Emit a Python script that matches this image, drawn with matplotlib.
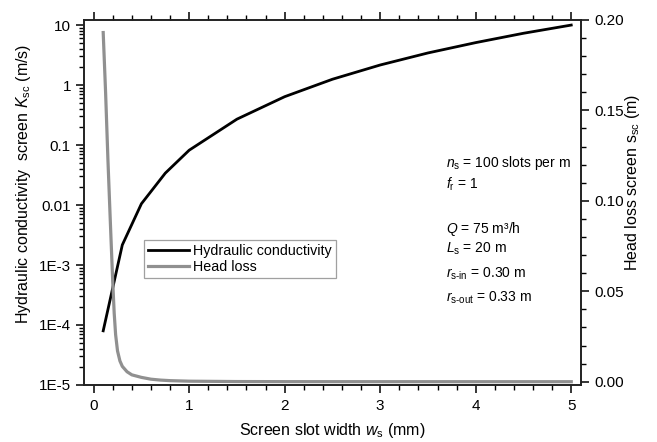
import matplotlib
matplotlib.use("Agg")
import matplotlib.pyplot as plt
from matplotlib.ticker import MultipleLocator, LogLocator, NullFormatter, FormatStrFormatter

plt.rcParams['font.family'] = ['Liberation Sans', 'DejaVu Sans']
plt.rcParams['mathtext.fontset'] = 'custom'
plt.rcParams['mathtext.rm'] = 'Liberation Sans'
plt.rcParams['mathtext.it'] = 'Liberation Sans:italic'

# Hydraulic conductivity K_sc (m/s) vs slot width w_s (mm)
w_k = [0.1, 0.3, 0.5, 0.75, 1.0, 1.5, 2.0, 2.5, 3.0, 3.5, 4.0, 4.5, 5.0]
k_sc = [8.0e-5, 2.16e-3, 0.0105, 0.034, 0.082, 0.27, 0.64, 1.25, 2.16, 3.43, 5.1, 7.3, 10.0]

# Head loss s_sc (m) vs slot width w_s (mm)
w_s = [0.1, 0.125, 0.15, 0.175, 0.2, 0.215, 0.23, 0.25, 0.275, 0.3, 0.35, 0.4,
       0.5, 0.6, 0.7, 0.8, 1.0, 1.5, 2.0, 3.0, 4.0, 5.0]
s_sc = [0.193, 0.16, 0.122, 0.088, 0.055, 0.038, 0.026, 0.017, 0.0115, 0.0085,
        0.0055, 0.0038, 0.0024, 0.0014, 0.0009, 0.0006, 0.0003, 0.0001,
        0.00005, 0.00003, 0.00002, 0.00002]

left_ticks = [1e-5, 1e-4, 1e-3, 1e-2, 1e-1, 1, 10]
left_labels = ['1E-5', '1E-4', '1E-3', '0.01', '0.1', '1', '10']

fig = plt.figure(figsize=(6.57, 4.42), dpi=100)
ax = fig.add_axes([0.128, 0.129, 0.756, 0.826])
ax2 = ax.twinx()

l1, = ax.plot(w_k, k_sc, color='black', lw=2.0, label='Hydraulic conductivity', zorder=3)
l2, = ax2.plot(w_s, s_sc, color='#909090', lw=2.3, label='Head loss', zorder=2)

ax.set_yscale('log')
ax.set_xlim(-0.1, 5.1)
ax.set_ylim(1e-5, 12.2)
ax.set_yticks(left_ticks)
ax.set_yticklabels(left_labels)
ax.yaxis.set_minor_locator(LogLocator(base=10, subs=range(2, 10), numticks=20))
ax.yaxis.set_minor_formatter(NullFormatter())
ax.xaxis.set_major_locator(MultipleLocator(1))
ax.xaxis.set_minor_locator(MultipleLocator(0.2))

ax2.set_ylim(-0.0018, 0.2)
ax2.yaxis.set_major_locator(MultipleLocator(0.05))
ax2.yaxis.set_minor_locator(MultipleLocator(0.01))
ax2.yaxis.set_major_formatter(FormatStrFormatter('%.2f'))

for a in (ax, ax2):
    for sp in a.spines.values():
        sp.set_linewidth(1.2)
        sp.set_color('#222222')

ax.tick_params(axis='x', which='both', top=True, direction='out', labelsize=11, pad=4)
ax.tick_params(axis='both', which='major', length=6, width=1.1)
ax.tick_params(axis='both', which='minor', length=3.5, width=1.0)
ax.tick_params(axis='y', which='both', direction='out', labelsize=11)
ax2.tick_params(axis='y', which='major', direction='out', length=6, width=1.1, labelsize=11)
ax2.tick_params(axis='y', which='minor', direction='out', length=3.5, width=1.0)

ax.set_xlabel(r'Screen slot width $w_\mathrm{s}$ (mm)', fontsize=11.5, labelpad=6)
ax.set_ylabel(r'Hydraulic conductivity  screen $K_\mathrm{sc}$ (m/s)', fontsize=11.5)
ax2.set_ylabel(r'Head loss screen s$_\mathrm{sc}$ (m)', fontsize=11.5)
ax.yaxis.set_label_coords(-0.103, 0.55)
ax2.yaxis.set_label_coords(1.085, 0.555)

leg = ax2.legend(handles=[l1, l2], loc='upper left', bbox_to_anchor=(0.121, 0.397),
                 fontsize=10.3, frameon=True, fancybox=False, handlelength=2.8,
                 handletextpad=0.3, borderpad=0.3, labelspacing=0.1, borderaxespad=0)
leg.get_frame().set_edgecolor('#888888')
leg.get_frame().set_linewidth(0.9)

ann = [
    (163, r'$n_\mathrm{s}$ = 100 slots per m'),
    (184, r'$f_\mathrm{r}$ = 1'),
    (229, r'$Q$ = 75 m³/h'),
    (249, r'$L_\mathrm{s}$ = 20 m'),
    (274, r'$r_\mathrm{s\text{-}in}$ = 0.30 m'),
    (298, r'$r_\mathrm{s\text{-}out}$ = 0.33 m'),
]
for ypix, txt in ann:
    fig.text(446 / 657, 1 - ypix / 442, txt, fontsize=10, va='center', ha='left')

fig.savefig('out.png', dpi=100)
